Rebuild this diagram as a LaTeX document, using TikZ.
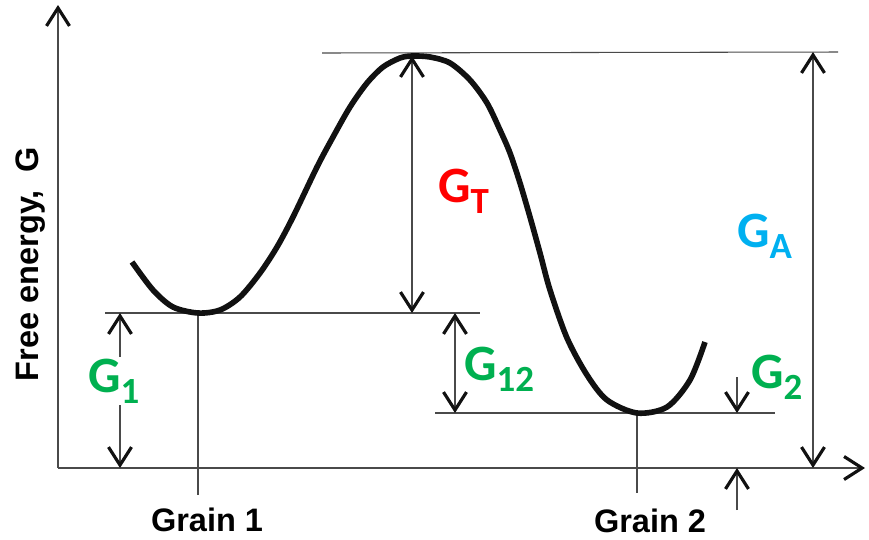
\documentclass[tikz,border=0pt]{standalone}
\usepackage{fontspec}
\setsansfont{Liberation Sans}
\newfontfamily\glabelfont{Carlito}
\usepackage{tikz}
\usetikzlibrary{arrows.meta, positioning}
\definecolor{Ink}{HTML}{111111}
\definecolor{Rule}{HTML}{4A4A4A}
\definecolor{GGreen}{HTML}{00B050}
\definecolor{GRed}{HTML}{FF0000}
\definecolor{GCyan}{HTML}{00B0F0}
\newcommand{\gsym}[1]{G\raisebox{-0.22cm}{\fontsize{21}{21}\selectfont #1}}

\begin{document}
\begin{tikzpicture}[
  x=0.02cm, y=-0.02cm,
  guide/.style={draw=Rule, line width=0.6pt},
  axis/.style={draw=Rule, line width=0.9pt, -{Straight Barb[length=3.6mm, width=4.6mm, line width=1.8pt, color=Ink]}},
  dim/.style={draw=Rule, line width=0.6pt, {Straight Barb[length=3.6mm, width=4.6mm, line width=1.8pt, color=Ink]}-{Straight Barb[length=3.6mm, width=4.6mm, line width=1.8pt, color=Ink]}},
  single/.style={draw=Rule, line width=0.6pt, -{Straight Barb[length=3.6mm, width=4.6mm, line width=1.8pt, color=Ink]}},
  energy/.style={draw=Ink, line width=3.2pt},
  glab/.style={font=\glabelfont\bfseries\fontsize{29}{30}\selectfont, anchor=base west, inner sep=1pt},
  grain/.style={font=\sffamily\bfseries\fontsize{18.5}{21}\selectfont, anchor=base, inner sep=0pt}
]
\useasboundingbox (0,0) rectangle (869,539);

% key points of the curve and the axes
\coordinate (O) at (58,468);
\coordinate (ytip) at (58,5);
\coordinate (xtip) at (865,468);
\coordinate (min1) at (198,313);
\coordinate (top) at (412,56);
\coordinate (min2) at (637,413);

% axes
\draw[axis] (O) -- (ytip);
\draw[axis] (O) -- (xtip);
\node[grain, rotate=90] (ylab) at (38,264) {Free energy, \ G};

% level lines
\draw[guide] (105,313) -- (480,313);
\draw[guide] (322,53) -- (838,52);
\draw[guide] (435,413) -- (775,413);
\draw[guide] (min1) -- (198,495);
\draw[guide] (min2) -- (637,493);

% free energy curve
\draw[energy] plot[smooth, tension=0.5] coordinates {
  (132,262) (153,290) (173,307) (198,313) (220,310) (240,297) (260,273)
  (277,247) (293,217) (317,167) (333,137) (350,107) (367,83) (383,67)
  (400,58) (412,56) (430,57) (450,63) (470,80) (487,103) (500,130)
  (510,153) (520,183) (530,217) (540,253) (550,290) (567,338) (587,375)
  (607,400) (637,413) (667,407) (690,380) (705,342)};

% energy differences
\draw[dim] (120,313) -- (120,468);
\draw[dim] (top) -- (412,313);
\draw[dim] (455,313) -- (455,413);
\draw[dim] (813,52) -- (813,468);
\draw[single] (737,377) -- (737,413);
\draw[single] (737,510) -- (737,468);

\node[glab, text=GGreen, fill=white] (g1) at (86,392) {\gsym{1}};
\node[glab, text=GRed] (gt) at (436,202) {\gsym{T}};
\node[glab, text=GGreen] (g12) at (462,380) {\gsym{12}};
\node[glab, text=GCyan] (ga) at (735,247) {\gsym{A}};
\node[glab, text=GGreen] (g2) at (749,388) {\gsym{2}};

\node[grain] (grain1) at (207,531) {Grain 1};
\node[grain] (grain2) at (650,532) {Grain 2};
\end{tikzpicture}
\end{document}
